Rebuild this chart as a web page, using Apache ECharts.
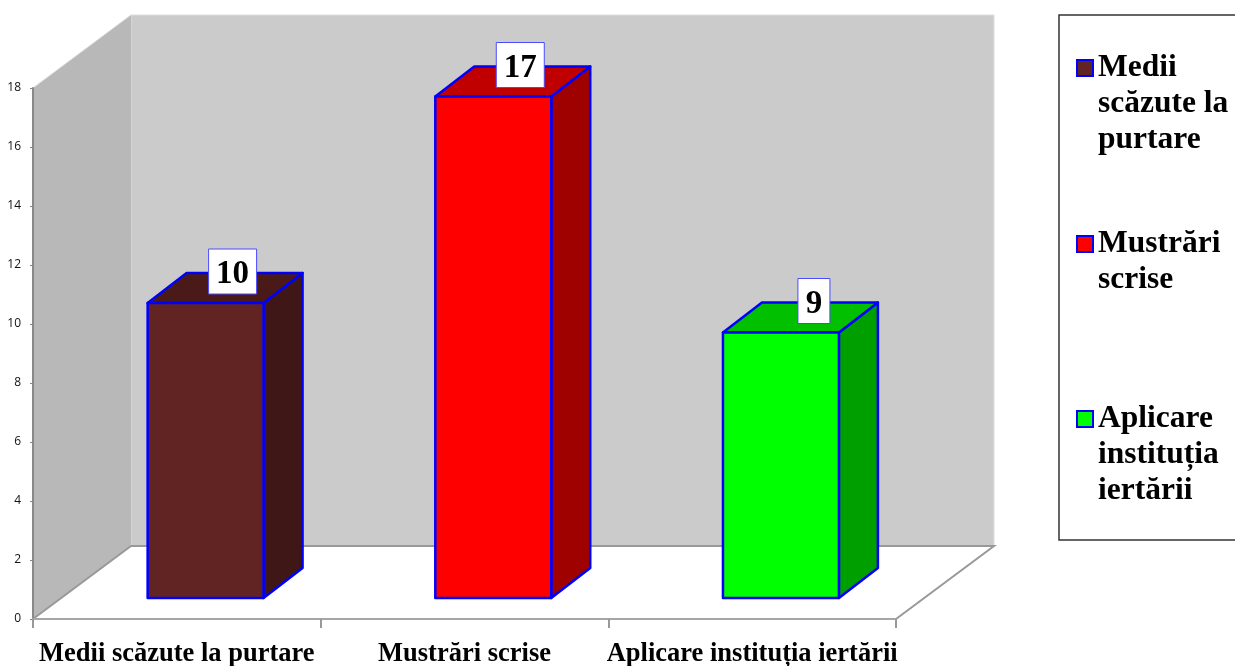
<!DOCTYPE html>
<html>
<head>
<meta charset="utf-8">
<style>html,body{margin:0;padding:0;background:#fff}#c{width:1235px;height:666px}</style>
<script src="https://cdn.jsdelivr.net/npm/echarts@6/dist/echarts.min.js"></script>
</head>
<body>
<div id="c"></div>
<script>
var categories = ['Medii scăzute la purtare', 'Mustrări scrise', 'Aplicare instituția iertării'];
var values = [10, 17, 9];
var legendLabels = ['\n\nMedii\nscăzute la\npurtare', '\nMustrări\nscrise', '\n\nAplicare\ninstituția\niertării'];
var yTicks = { min: 0, max: 18, interval: 2 };
var frontColors = ['#622423', '#ff0000', '#00ff00'];
var sideColors = ['#3f1716', '#9f0000', '#009f00'];
var topColors = ['#4a1a19', '#c00000', '#00c000'];
var legendCenters = [68, 244, 419];

var DX = 98, DY = 73;          // wall depth
var BX = 39, BY = 30;          // bar depth
var FLOOR = 21;                // bar front base above axis
var SERIF = '"Liberation Serif","Times New Roman",serif';

function pts(a) { return { points: a }; }

function renderWalls(params, api) {
  var c = params.coordSys;
  var x0 = c.x, x1 = c.x + c.width, y0 = c.y, yb = c.y + c.height;
  var line = '#999999';
  return { type: 'group', children: [
    { type: 'polygon', shape: pts([[x0 + DX, y0 - DY], [x1 + DX, y0 - DY], [x1 + DX, yb - DY], [x0 + DX, yb - DY]]),
      style: { fill: '#cbcbcb', stroke: '#dedede', lineWidth: 1 } },
    { type: 'polygon', shape: pts([[x0, y0], [x0 + DX, y0 - DY], [x0 + DX, yb - DY], [x0, yb]]),
      style: { fill: '#b8b8b8', stroke: null } },
    { type: 'line', shape: { x1: x0 + DX, y1: y0 - DY, x2: x0, y2: y0 }, style: { stroke: '#d8d8d8', lineWidth: 1 } },
    { type: 'polyline', shape: pts([[x0, yb], [x0 + DX, yb - DY], [x1 + DX, yb - DY], [x1, yb]]),
      style: { stroke: line, lineWidth: 2, fill: null } }
  ] };
}

function renderBar(i) {
  return function (params, api) {
    var base = api.coord([api.value(0), 0]);
    var top = api.coord([api.value(0), api.value(1)]);
    var band = api.size([1, 0])[0];
    var w = band * 0.403;
    var cx = base[0] + band * 0.1;
    var xa = cx - w / 2, xb = cx + w / 2;
    var yb = base[1] - FLOOR, yt = top[1] - FLOOR;
    var edge = { stroke: '#0000ff', lineWidth: 2.5, lineJoin: 'round' };
    var txt = String(api.value(1));
    var boxW = txt.length > 1 ? 48 : 32;
    var boxC = cx + (txt.length > 1 ? 27 : 33);
    var boxT = yt - 54, boxH = 45;
    return { type: 'group', children: [
      { type: 'polygon', shape: pts([[xb, yt], [xb + BX, yt - BY], [xb + BX, yb - BY], [xb, yb]]),
        style: Object.assign({ fill: sideColors[i] }, edge) },
      { type: 'polygon', shape: pts([[xa, yt], [xa + BX, yt - BY], [xb + BX, yt - BY], [xb, yt]]),
        style: Object.assign({ fill: topColors[i] }, edge) },
      { type: 'rect', shape: { x: xa, y: yt, width: w, height: yb - yt },
        style: Object.assign({ fill: frontColors[i] }, edge) },
      { type: 'rect', shape: { x: boxC - boxW / 2, y: boxT, width: boxW, height: boxH },
        style: { fill: '#ffffff', stroke: '#4a4aff', lineWidth: 1 } },
      { type: 'text', style: { text: txt, x: boxC, y: boxT + boxH / 2 + 3, align: 'center', verticalAlign: 'middle',
        font: 'bold 33px ' + SERIF, fill: '#000' } }
    ] };
  };
}

var series = [{ type: 'custom', name: '_walls', z: -1, silent: true, data: [[0, 0]], renderItem: renderWalls, tooltip: { show: false } }];
categories.forEach(function (name, i) {
  series.push({ type: 'custom', name: name, z: 5, data: [[i, values[i]]], encode: { x: 0, y: 1 }, renderItem: renderBar(i) });
});

var legends = categories.map(function (name, i) {
  var lines = legendLabels[i].split('\n').length;
  return {
    data: [{ name: name, icon: 'rect', itemStyle: { color: frontColors[i], borderColor: '#0000ff', borderWidth: 2 } }],
    orient: 'vertical', left: 1076, top: legendCenters[i] - lines * 18,
    padding: 0, itemWidth: 16, itemHeight: 16, selectedMode: false,
    formatter: function () { return legendLabels[i]; },
    textStyle: { fontFamily: SERIF, fontWeight: 'bold', fontSize: 31.5, lineHeight: 36, color: '#000' }
  };
});

var chart = echarts.init(document.getElementById('c'), null, { renderer: 'canvas' });
chart.setOption({
  animation: false,
  backgroundColor: '#ffffff',
  grid: { left: 33, right: 339, top: 88, bottom: 47, containLabel: false, outerBoundsMode: 'none' },
  legend: legends,
  graphic: [{
    type: 'polyline', shape: { points: [[1235, 15], [1059, 15], [1059, 540], [1235, 540]] },
    style: { stroke: '#333333', lineWidth: 1.5, fill: null }, z: 0
  }],
  xAxis: {
    type: 'category', data: categories, boundaryGap: true,
    axisLine: { show: true, lineStyle: { color: '#a6a6a6', width: 2 } },
    axisTick: { show: true, length: 9, alignWithLabel: false, lineStyle: { color: '#999999', width: 2 } },
    axisLabel: { interval: 0, margin: 22, fontFamily: SERIF, fontWeight: 'bold', fontSize: 26.5, color: '#000' },
    splitLine: { show: false }
  },
  yAxis: {
    type: 'value', min: yTicks.min, max: yTicks.max, interval: yTicks.interval,
    axisLine: { show: true, lineStyle: { color: '#888888', width: 2 } },
    axisTick: { show: true, length: 3, lineStyle: { color: '#888888', width: 1 } },
    axisLabel: { margin: 12, fontFamily: '"Open Sans","Noto Sans",sans-serif', fontSize: 12, color: '#111' },
    splitLine: { show: false }
  },
  series: series
});
</script>
</body>
</html>
